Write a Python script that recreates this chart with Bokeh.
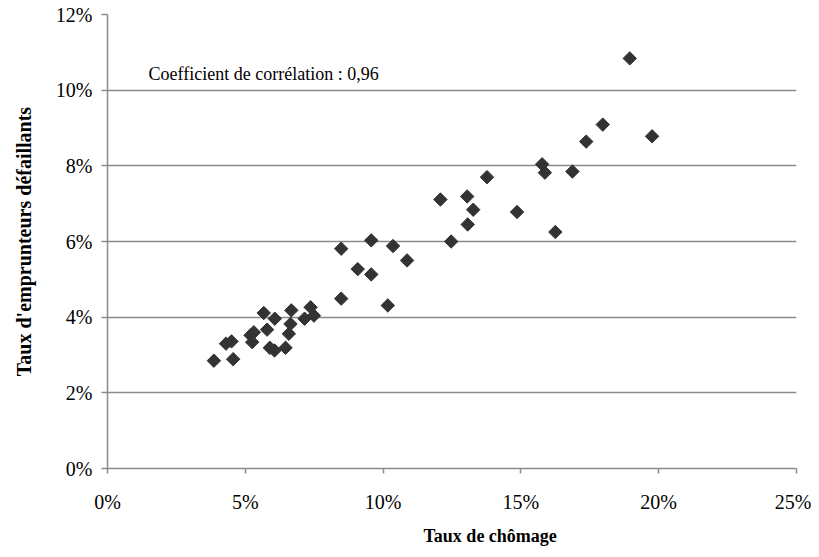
import math
from bokeh.plotting import figure
from bokeh.models import Label, Title, PrintfTickFormatter, FixedTicker, Range1d
from bokeh.embed import file_html
from bokeh.resources import INLINE

# Taux de chômage (%)
chomage = [3.86, 4.56, 4.30, 4.50, 5.19, 5.31, 5.25, 5.67, 5.79, 6.07,
           5.89, 6.06, 6.46, 6.58, 6.64, 6.67, 7.15, 7.37, 7.49, 8.48,
           8.48, 9.57, 10.36, 12.47, 10.87, 9.08, 9.57, 10.17, 12.08, 13.05,
           13.27, 14.86, 13.07, 18.95, 17.97, 17.37, 19.76, 15.77, 15.87, 16.87,
           13.77, 16.25]
# Taux d'emprunteurs défaillants (%)
defaillants = [2.85, 2.89, 3.30, 3.36, 3.52, 3.60, 3.34, 4.11, 3.67, 3.96,
               3.19, 3.12, 3.19, 3.56, 3.82, 4.18, 3.96, 4.26, 4.04, 4.49,
               5.81, 6.03, 5.88, 6.00, 5.50, 5.27, 5.13, 4.31, 7.11, 7.19,
               6.84, 6.78, 6.45, 10.84, 9.09, 8.64, 8.78, 8.04, 7.82, 7.85,
               7.70, 6.25]

x_ticks = [0, 5, 10, 15, 20, 25]
y_ticks = [0, 2, 4, 6, 8, 10, 12]

FONT = "'Liberation Serif', 'Times New Roman', serif"

p = figure(width=811, height=549, output_backend="svg", toolbar_location=None,
           x_range=Range1d(0, 25), y_range=Range1d(0, 12),
           frame_width=689, frame_height=454,
           min_border_left=107, min_border_right=15, min_border_top=14, min_border_bottom=81)
p.outline_line_color = None
p.background_fill_color = "white"
p.border_fill_color = "white"

p.xgrid.grid_line_color = None
p.ygrid.grid_line_color = "#8a8a8a"
p.ygrid.grid_line_width = 1.5
p.ygrid.ticker = FixedTicker(ticks=y_ticks)

for ax in (p.xaxis[0], p.yaxis[0]):
    ax.axis_line_color = "#8a8a8a"
    ax.axis_line_width = 1.5
    ax.major_tick_line_color = "#8a8a8a"
    ax.major_tick_line_width = 1.5
    ax.minor_tick_line_color = None
    ax.major_tick_in = 0
    ax.major_label_text_font = FONT
    ax.major_label_text_font_size = "20px"
    ax.major_label_text_color = "black"
    ax.formatter = PrintfTickFormatter(format="%d%%")

p.xaxis[0].ticker = FixedTicker(ticks=x_ticks)
p.yaxis[0].ticker = FixedTicker(ticks=y_ticks)
p.xaxis[0].major_tick_out = 5
p.yaxis[0].major_tick_out = 6
p.xaxis[0].major_label_standoff = 17
p.yaxis[0].major_label_standoff = 9

p.yaxis[0].axis_label = "Taux d'emprunteurs défaillants"
p.yaxis[0].axis_label_text_font = FONT
p.yaxis[0].axis_label_text_font_size = "20px"
p.yaxis[0].axis_label_text_font_style = "bold"
p.yaxis[0].axis_label_text_color = "black"
p.yaxis[0].axis_label_standoff = 18

p.scatter(chomage, defaillants, marker="square", angle=math.pi / 4, size=9.5,
          fill_color="#333333", line_color="#333333")

p.add_layout(Label(x=1.49, y=10.44, text="Coefficient de corrélation : 0,96",
                   text_font=FONT, text_font_size="18px", text_color="black",
                   text_align="left", text_baseline="middle"))

p.add_layout(Title(text="Taux de chômage", align="left", offset=316, standoff=16,
                   text_font=FONT, text_font_size="18px", text_font_style="bold",
                   text_color="black"), "below")

open("out.html", "w").write(file_html(p, INLINE))
